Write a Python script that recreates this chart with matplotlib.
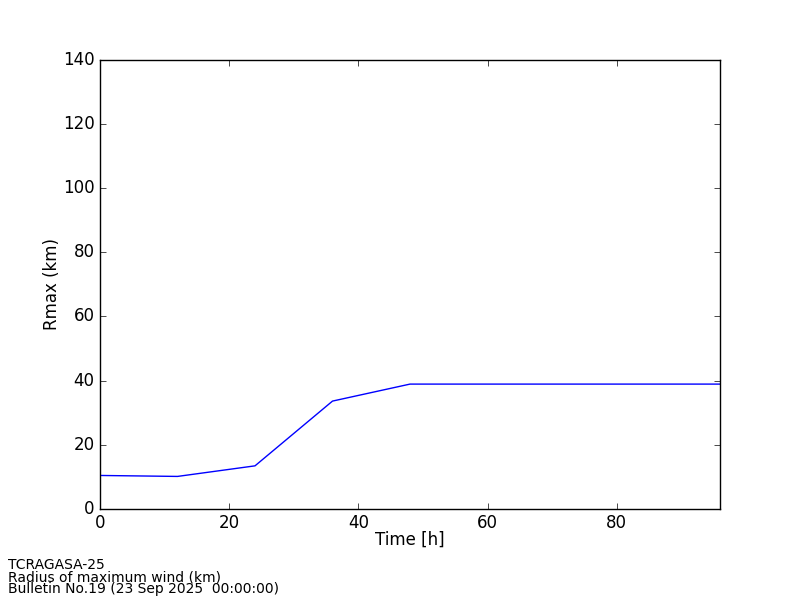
import matplotlib
matplotlib.use("Agg")
import matplotlib.pyplot as plt

# forecast lead time (h) and radius of maximum wind (km)
hours = [0, 12, 24, 36, 48, 60, 72, 84, 96]
rmax_km = [10.4, 10.1, 13.4, 33.6, 38.9, 38.9, 38.9, 38.9, 38.9]

footer_lines = [
    "TCRAGASA-25",
    "Radius of maximum wind (km)",
    "Bulletin No.19 (23 Sep 2025  00:00:00)",
]

plt.style.use("classic")
fig = plt.figure(figsize=(8, 6), dpi=100)
fig.subplots_adjust(left=0.125, right=0.9, top=0.9, bottom=0.152)
ax = fig.add_subplot(111)

ax.plot(hours, rmax_km, color="b", linewidth=1)
ax.set_xlim(0, 96)
ax.set_ylim(0, 140)
ax.set_xlabel("Time [h]", labelpad=-1)
ax.set_ylabel("Rmax (km)", labelpad=1.5)

fig.text(0.01, 0.006, "\n".join(footer_lines), fontsize=10,
         ha="left", va="bottom", linespacing=0.85)

fig.savefig("out.png", dpi=100)
